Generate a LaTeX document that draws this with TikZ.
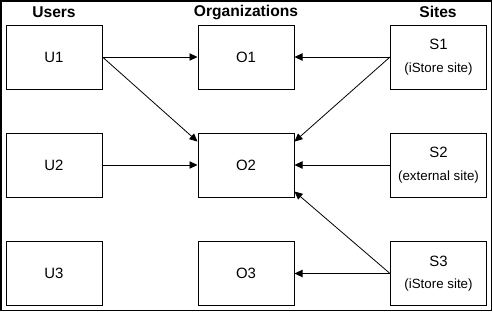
\documentclass[tikz,border=0pt]{standalone}
\usepackage{fontspec}
\setmainfont{Liberation Sans}
\usetikzlibrary{arrows.meta,positioning}
\newcommand{\sitenote}[1]{{\fontsize{10}{12}\selectfont (#1)}}

\begin{document}
\begin{tikzpicture}[x=0.75pt, y=-0.75pt,
  box/.style={draw, line width=0.75pt, minimum width=72pt, minimum height=48pt,
    inner sep=0pt, align=center, font=\fontsize{11.2}{13}\selectfont},
  head/.style={font=\fontsize{11.7}{13}\selectfont\bfseries},
  link/.style={-{Triangle[length=6pt,width=5.5pt]}, line width=0.6pt}]
  \useasboundingbox (0,0) rectangle (493,312);
  \draw[line width=1.1pt] (1,1) rectangle (491.5,310.5);

  % column titles
  \node[head] (tu) at (54,12) {Users};
  \node[head] (to) at (246,12) {Organizations};
  \node[head] (ts) at (438,12) {Sites};

  % users
  \node[box] (U1) at (54,57) {U1};
  \node[box] (U2) at (54,165) {U2};
  \node[box] (U3) at (54,273.5) {U3};

  % organizations
  \node[box] (O1) at (246,57) {O1};
  \node[box] (O2) at (246,165) {O2};
  \node[box] (O3) at (246,273.5) {O3};

  % sites
  \node[box] (S1) at (438.5,57) {S1\\[4pt]\sitenote{iStore site}};
  \node[box] (S2) at (438.5,165) {S2\\[4pt]\sitenote{external site}};
  \node[box] (S3) at (438.5,273.5) {S3\\[4pt]\sitenote{iStore site}};

  \draw[link] (U1.east) -- (O1.west);
  \draw[link] (U1.east) -- ([yshift=-6.8pt]O2.north west);
  \draw[link] (U2.east) -- (O2.west);
  \draw[link] (S1.west) -- (O1.east);
  \draw[link] (S1.west) -- ([yshift=-6.8pt]O2.north east);
  \draw[link] (S2.west) -- (O2.east);
  \draw[link] (S3.west) -- ([yshift=4.5pt]O2.south east);
  \draw[link] (S3.west) -- (O3.east);
\end{tikzpicture}
\end{document}
